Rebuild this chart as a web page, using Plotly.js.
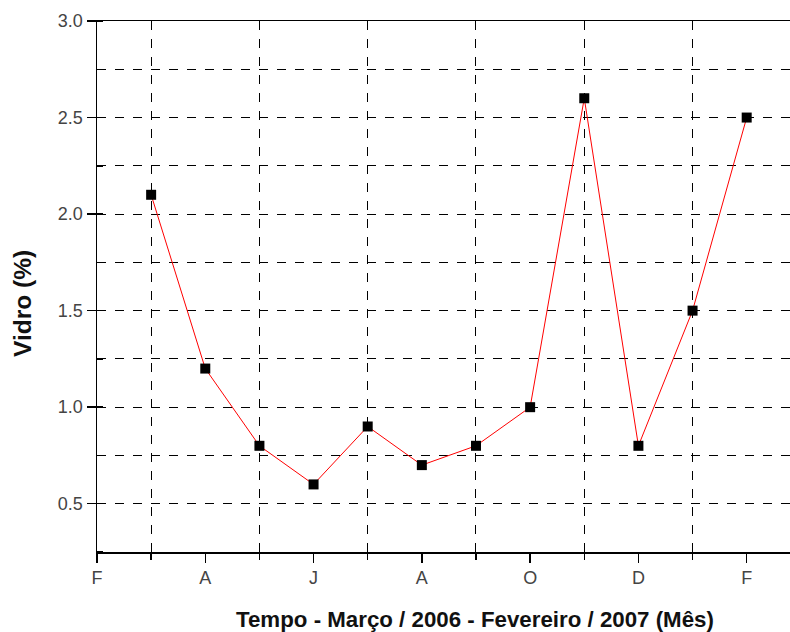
<!DOCTYPE html>
<html><head><meta charset="utf-8">
<script src="https://cdn.plot.ly/plotly-3.0.1.min.js"></script>
<style>html,body{margin:0;padding:0;background:#fff}#c{width:790px;height:632px}</style>
</head><body><div id="c"></div>
<script>
const months = [1,2,3,4,5,6,7,8,9,10,11,12];
const vidro = [2.1,1.2,0.8,0.6,0.9,0.7,0.8,1.0,2.6,0.8,1.5,2.5];
const tickPos = [0,2,4,6,8,10,12];
const tickLabels = ['F','A','J','A','O','D','F'];
const xTitle = 'Tempo - Março / 2006 - Fevereiro / 2007 (Mês)';
const yTitle = 'Vidro (%)';

const trace = {
  x: months, y: vidro, type: 'scatter', mode: 'lines+markers',
  line: {color: '#ff0000', width: 1},
  marker: {symbol: 'square', size: 10, color: '#000000'},
  cliponaxis: false, hoverinfo: 'none'
};
const tickFont = {family: 'Liberation Sans, Arial, sans-serif', size: 18, color: '#444'};
const titleFamily = 'Liberation Sans, Arial, sans-serif';
const layout = {
  width: 790, height: 632,
  margin: {l: 97, r: 0, t: 21, b: 80},
  paper_bgcolor: '#ffffff', plot_bgcolor: '#ffffff',
  showlegend: false,
  font: {family: tickFont.family, size: 16, color: '#333'},
  xaxis: {
    range: [0, 12.8], tickmode: 'array', tickvals: tickPos, ticktext: tickLabels,
    showgrid: false, zeroline: false, showline: true, linecolor: '#000', linewidth: 1.5,
    mirror: true, ticks: 'outside', ticklen: 9, tickcolor: '#000', tickwidth: 1.5,
    tickfont: tickFont,
    minor: {tickmode: 'array', tickvals: [1,3,5,7,9,11], ticks: 'outside', ticklen: 6, tickcolor: '#000',
            showgrid: true, gridcolor: '#000', gridwidth: 1, griddash: 'dash'}
  },
  yaxis: {
    range: [0.25, 3.0], tick0: 0.5, dtick: 0.5, tickformat: '.1f',
    showgrid: false, zeroline: false, showline: true, linecolor: '#000', linewidth: 1.5,
    ticks: 'outside', ticklen: 9, tickcolor: '#000', tickwidth: 1.5,
    tickfont: tickFont,
    minor: {tick0: 0.25, dtick: 0.25, ticks: 'inside', ticklen: 6, tickcolor: '#000',
            showgrid: true, gridcolor: '#000', gridwidth: 1, griddash: 'dash'}
  },
  annotations: [
    {text: xTitle, xref: 'paper', yref: 'paper', x: (475 - 97) / 693, y: -(619 - 552) / 531,
     xanchor: 'center', yanchor: 'middle', showarrow: false,
     font: {family: titleFamily, size: 22.3, color: '#111', weight: 'bold'}},
    {text: yTitle, xref: 'paper', yref: 'paper', x: -(97 - 22) / 693, y: (552 - 304) / 531,
     xanchor: 'center', yanchor: 'middle', textangle: -90, showarrow: false,
     font: {family: titleFamily, size: 24.5, color: '#111', weight: 'bold'}}
  ]
};
Plotly.newPlot('c', [trace], layout, {staticPlot: true, displayModeBar: false});
</script></body></html>
